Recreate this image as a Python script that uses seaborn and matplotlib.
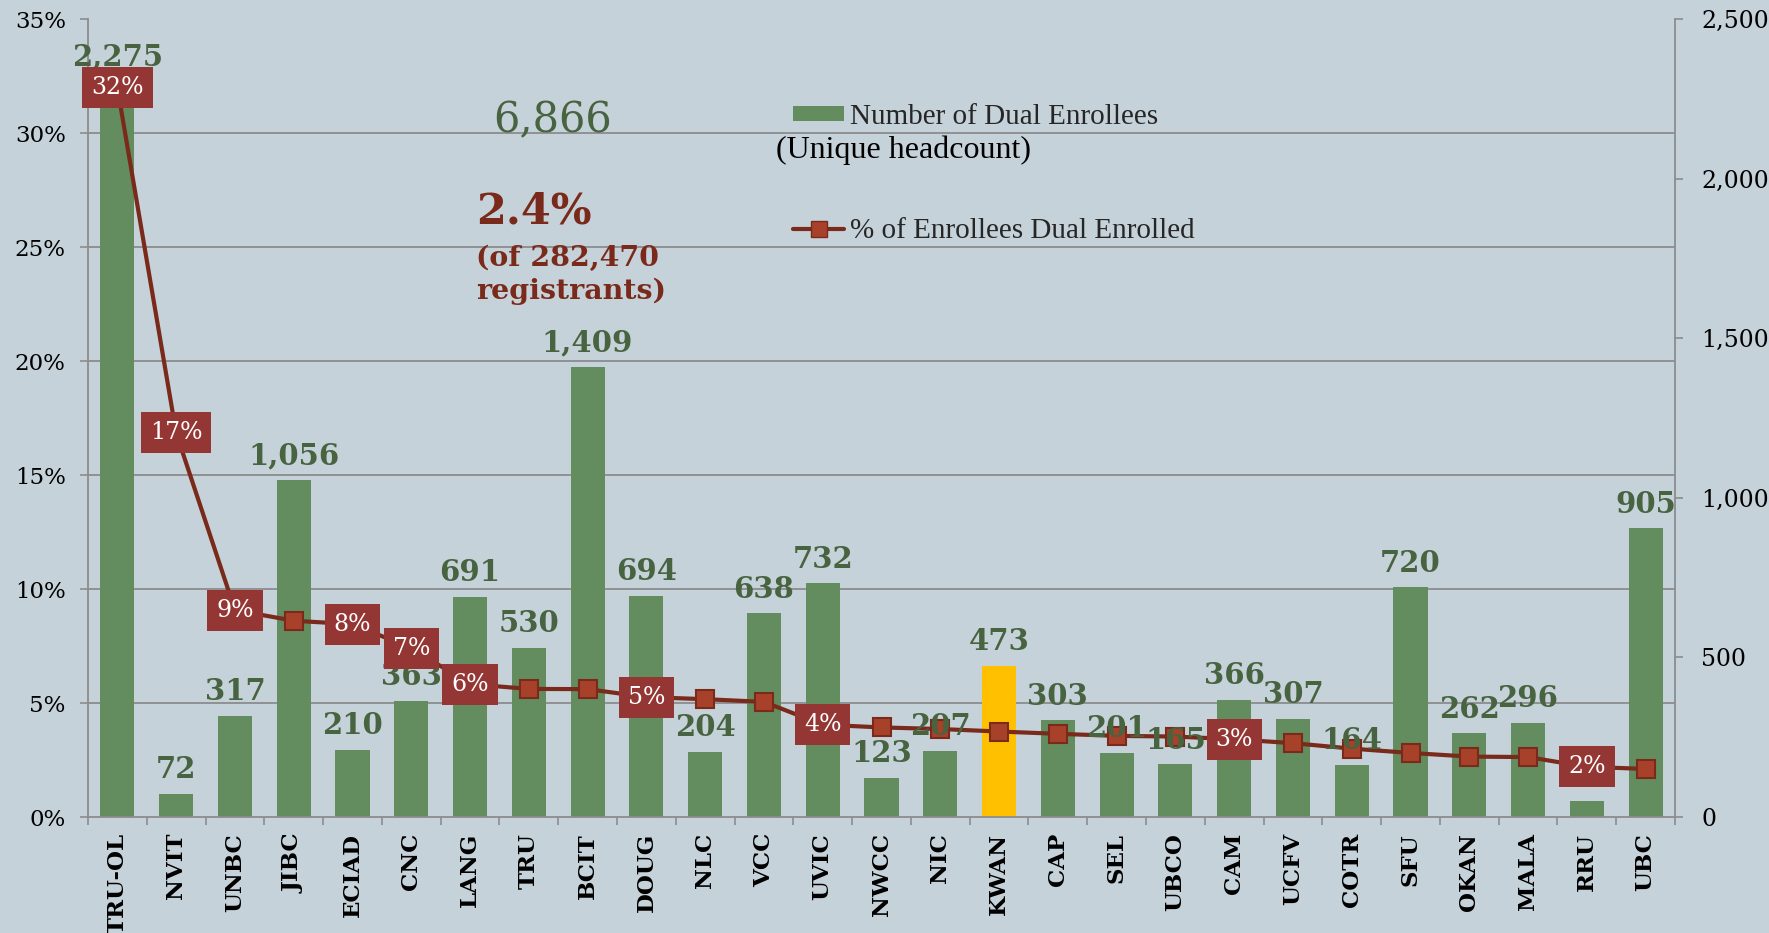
import matplotlib
matplotlib.use('Agg')
import matplotlib.pyplot as plt
import seaborn as sns
import pandas as pd
from matplotlib.ticker import FixedLocator, FuncFormatter
from matplotlib.lines import Line2D
from matplotlib.patches import Patch

# ---- data ----
institutions = ['TRU-OL', 'NVIT', 'UNBC', 'JIBC', 'ECIAD', 'CNC', 'LANG', 'TRU', 'BCIT',
                'DOUG', 'NLC', 'VCC', 'UVIC', 'NWCC', 'NIC', 'KWAN', 'CAP', 'SEL', 'UBCO',
                'CAM', 'UCFV', 'COTR', 'SFU', 'OKAN', 'MALA', 'RRU', 'UBC']
dual_enrollees = [2275, 72, 317, 1056, 210, 363, 691, 530, 1409, 694, 204, 638, 732, 123,
                  207, 473, 303, 201, 165, 366, 307, 164, 720, 262, 296, 49, 905]
pct_dual = [32.0, 16.85, 9.08, 8.61, 8.46, 7.41, 5.83, 5.62, 5.61, 5.26, 5.17, 5.05, 4.05,
            3.93, 3.86, 3.75, 3.65, 3.56, 3.53, 3.41, 3.24, 3.0, 2.81, 2.65, 2.63, 2.2, 2.11]
pct_boxed = ['TRU-OL', 'NVIT', 'UNBC', 'ECIAD', 'CNC', 'LANG', 'DOUG', 'UVIC', 'CAM', 'RRU']
highlight = 'KWAN'

pct_ticks = [0, 5, 10, 15, 20, 25, 30, 35]
count_ticks = [0, 500, 1000, 1500, 2000, 2500]

total_headcount = '6,866'
overall_pct = '2.4%'
overall_note = '(of 282,470\nregistrants)'
legend_labels = ['Number of Dual Enrollees', '% of Enrollees Dual Enrolled']
legend_sub = '(Unique headcount)'

df = pd.DataFrame({'institution': institutions, 'dual': dual_enrollees, 'pct': pct_dual})
df['pos'] = df.index

# ---- colours ----
BG = '#C6D2D9'
BAR = '#638D5F'
GOLD = '#FFC000'
NUM = '#476340'
LINE = '#7A2A1B'
MFACE = '#A8412A'
BOX = '#943634'
GRID = '#8C8C8C'

sns.set_theme(style='white')
plt.rcParams['font.family'] = ['DejaVu Serif']

W, H = 1769, 933
fig = plt.figure(figsize=(W / 100, H / 100), dpi=100, facecolor=BG)
ax = fig.add_axes([88 / W, 1 - 817 / H, (1675 - 88) / W, (817 - 19.3) / H])
ax.set_facecolor(BG)

# bars (right axis, counts)
palette = {name: (GOLD if name == highlight else BAR) for name in institutions}
sns.barplot(data=df, x='institution', y='dual', hue='institution', palette=palette,
            legend=False, width=0.58, saturation=1, linewidth=0, ax=ax)
ax.set_ylim(0, count_ticks[-1])
ax.set_xlabel('')
ax.set_ylabel('')

# line (left axis, percent) -- twin first, then move the count axis to the right
ax2 = ax.twinx()
ax.yaxis.tick_right()
ax2.yaxis.tick_left()

ax.set_yticks(count_ticks)
ax.yaxis.set_major_formatter(FuncFormatter(lambda v, p: f'{v:,.0f}'))
ax.yaxis.set_minor_locator(FixedLocator([count_ticks[-1] * p / pct_ticks[-1] for p in pct_ticks]))
ax.grid(which='minor', axis='y', color=GRID, lw=1.3)
ax.grid(which='major', axis='both', visible=False)
ax.set_axisbelow(True)
ax.tick_params(axis='y', which='major', left=False, right=True, labelleft=False,
               labelright=True, length=6, width=1.2, color=GRID, pad=13, labelsize=17,
               labelcolor='black')
ax.tick_params(axis='y', which='minor', left=False, right=False, length=0)

ax.set_xticks(range(len(institutions)), institutions)
ax.set_xticks([k - 0.5 for k in range(len(institutions) + 1)], minor=True)
ax.tick_params(axis='x', which='major', length=0, pad=11.5, labelsize=16.5, rotation=90,
               labelcolor='black')
ax.tick_params(axis='x', which='minor', bottom=True, length=6, width=1.2, color=GRID)
for lbl in ax.get_xticklabels():
    lbl.set_fontweight('bold')

for side in ['left', 'right', 'bottom']:
    ax.spines[side].set_visible(True)
    ax.spines[side].set_color(GRID)
    ax.spines[side].set_linewidth(1.3)
ax.spines['top'].set_visible(False)

ax2.set_ylim(0, pct_ticks[-1])
ax2.set_yticks(pct_ticks)
ax2.yaxis.set_major_formatter(FuncFormatter(lambda v, p: f'{v:.0f}%'))
ax2.tick_params(axis='y', left=True, right=False, labelleft=True, labelright=False,
                length=6, width=1.2, color=GRID, pad=10, labelsize=16.5, labelcolor='black')
for s in ax2.spines.values():
    s.set_visible(False)

sns.lineplot(data=df, x='pos', y='pct', ax=ax2, color=LINE, lw=3, marker='s',
             markersize=13, markerfacecolor=MFACE, markeredgecolor=LINE,
             markeredgewidth=1.5, sort=False, zorder=3)
ax2.set_xlabel('')
ax2.set_ylabel('')
ax.set_xlim(-0.5, len(institutions) - 0.5)

# bar value labels (the tallest one is lifted clear of its % box)
for i, (name, n) in enumerate(zip(institutions, dual_enrollees)):
    lift = 14 if n == max(dual_enrollees) else 7
    ax2.annotate(f'{n:,}', xy=(i, n), xycoords=ax.transData, xytext=(0, lift),
                 textcoords='offset points', ha='center', va='bottom', color=NUM,
                 fontsize=21, fontweight='bold', zorder=5)

# percent boxes
for i, (name, v) in enumerate(zip(institutions, pct_dual)):
    if name in pct_boxed:
        ax2.text(i, v, f'{v:.0f}%', ha='center', va='center', color='white', fontsize=17,
                 zorder=6, bbox=dict(boxstyle='square,pad=0.38', fc=BOX, ec='none'))

# annotations
fig.text(553 / W, 1 - 120 / H, total_headcount, ha='center', va='center', color=NUM,
         fontsize=30)
fig.text(476 / W, 1 - 212 / H, overall_pct, ha='left', va='center', color=LINE,
         fontsize=31, fontweight='bold')
fig.text(476 / W, 1 - 275 / H, overall_note, ha='left', va='center', color=LINE,
         fontsize=20.5, fontweight='bold', linespacing=1.3)

# legend
handles = [Patch(facecolor=BAR, edgecolor='none'),
           Line2D([], [], color=LINE, lw=3, marker='s', markersize=11,
                  markerfacecolor=MFACE, markeredgecolor=LINE)]
fig.legend(handles, legend_labels, loc='upper left', bbox_to_anchor=(793 / W, 1 - 104 / H),
           frameon=False, prop={'family': 'Liberation Serif', 'size': 21},
           handlelength=1.75, handleheight=0.42, handletextpad=0.2, labelspacing=3.0,
           borderpad=0, borderaxespad=0)
fig.text(776 / W, 1 - 150 / H, legend_sub, ha='left', va='center', color='black',
         family='Liberation Serif', fontsize=23)

fig.savefig('out.png', dpi=100, facecolor=BG)
